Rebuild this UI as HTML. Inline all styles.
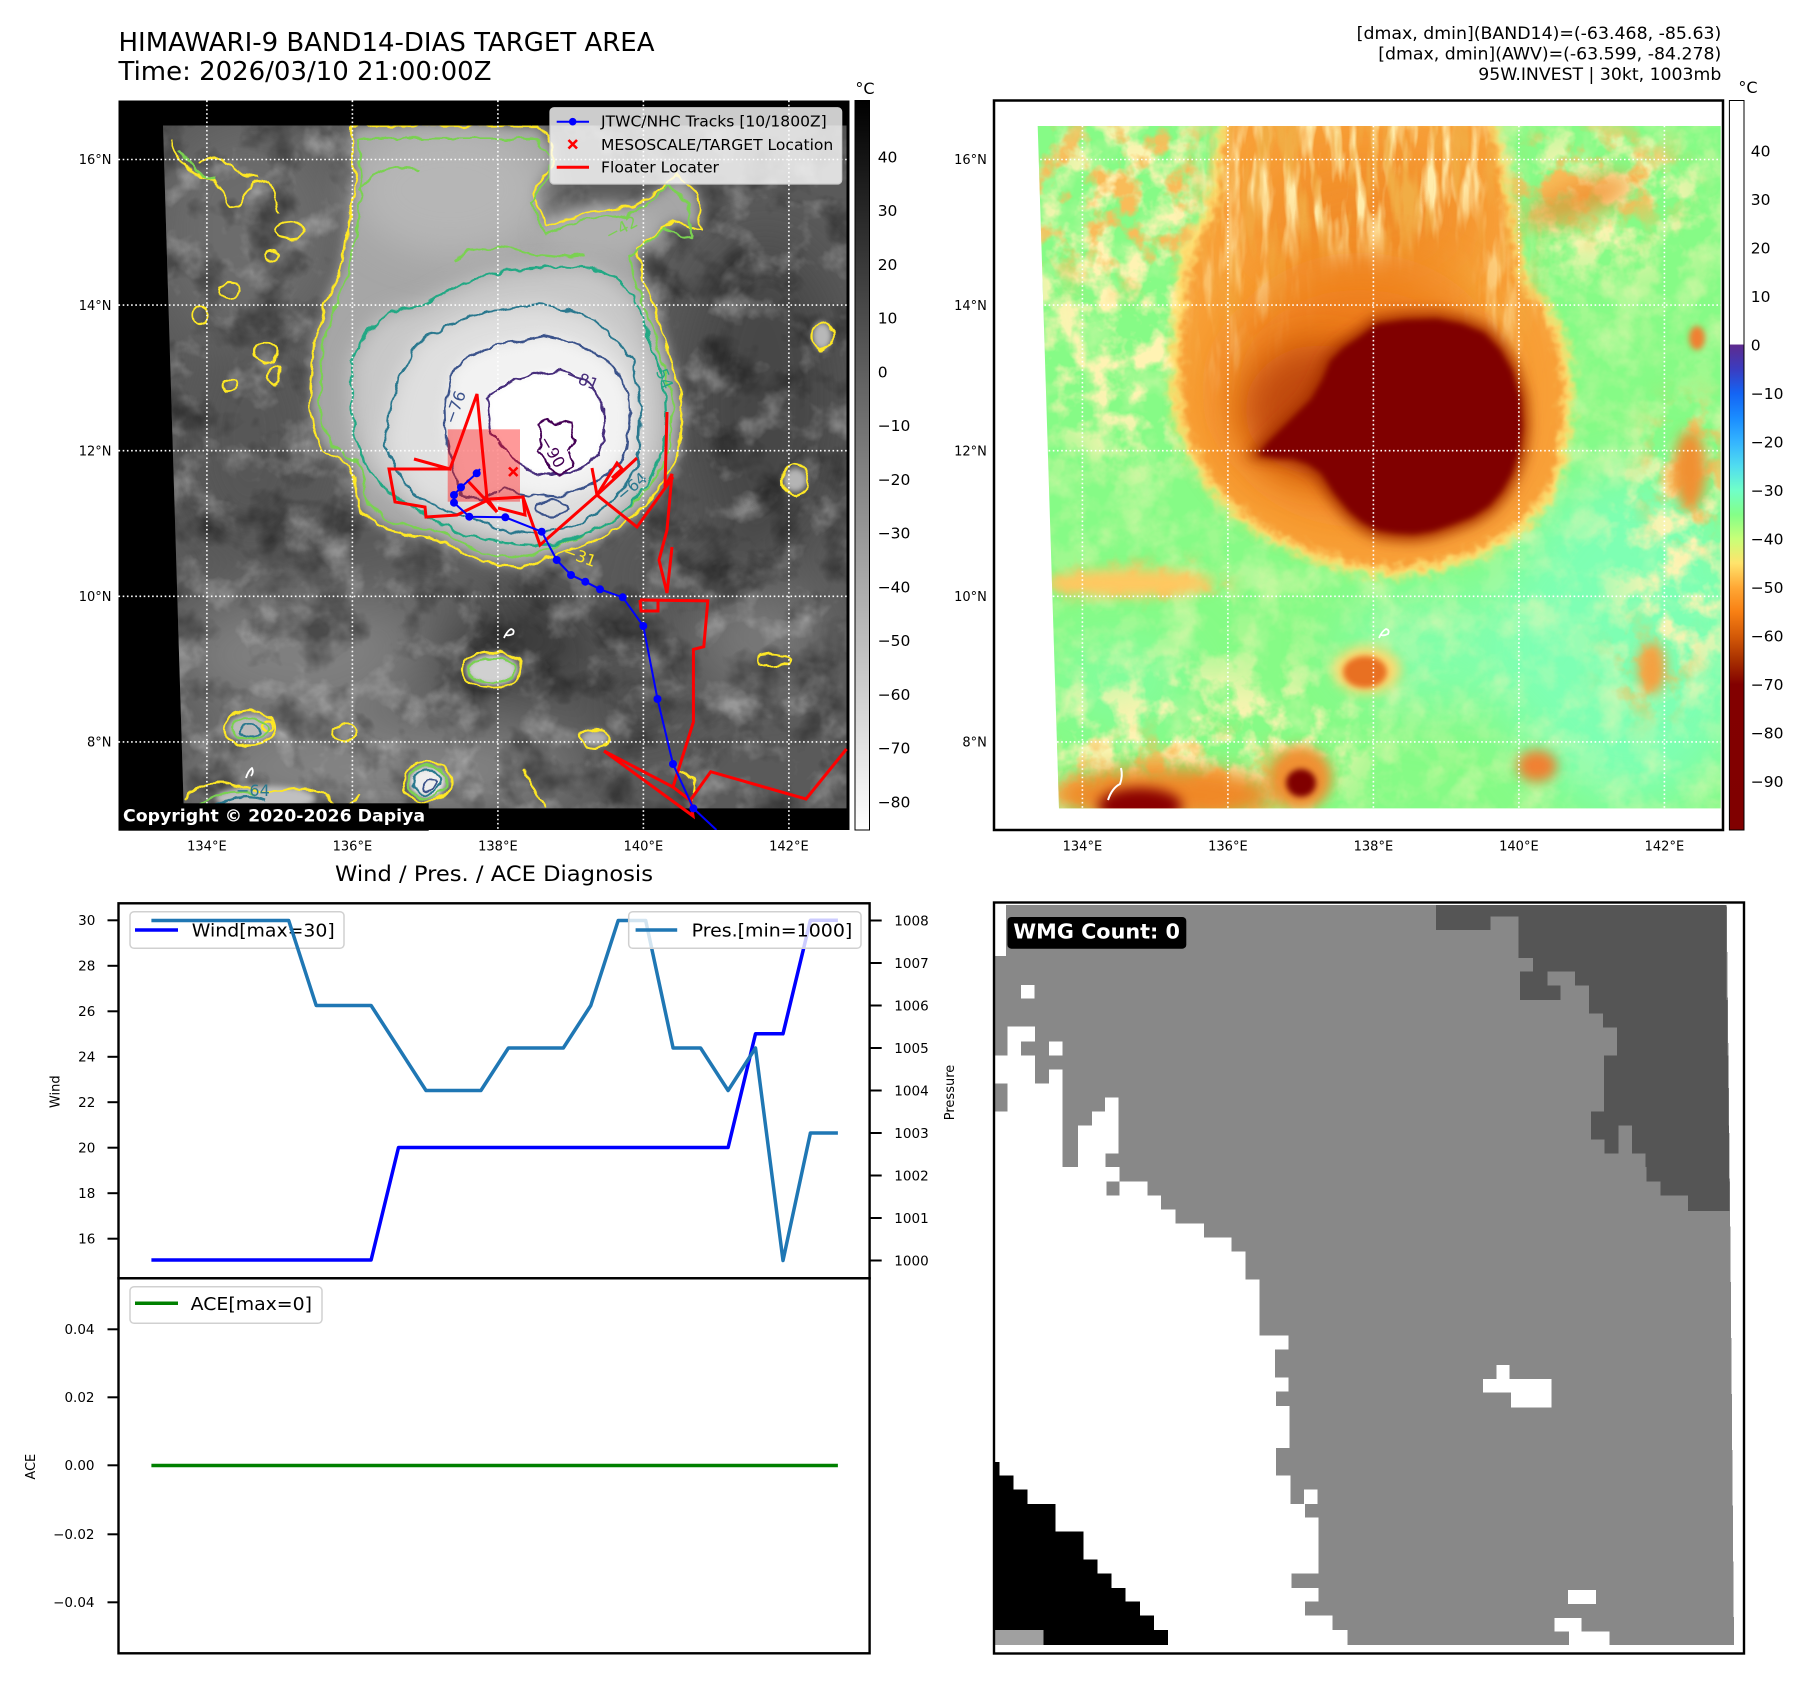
<!DOCTYPE html>
<html><head><meta charset="utf-8"><style>html,body{margin:0;padding:0;background:#fff;}svg{display:block}</style></head>
<body>
<svg width="1813" height="1690" viewBox="0 0 1813 1690" xmlns="http://www.w3.org/2000/svg" font-family="'DejaVu Sans','Liberation Sans',sans-serif">
<defs>
  <clipPath id="cL"><polygon points="163,125.5 846.5,125.5 846.5,808.4 183.7,808.4"/></clipPath>
  <clipPath id="cR"><polygon points="1037.7,126 1720.7,126 1720.7,808.4 1059,808.4"/></clipPath>
  <clipPath id="axL"><rect x="118.5" y="100.5" width="731" height="729.5"/></clipPath>
  <filter id="b3" x="-50%" y="-50%" width="200%" height="200%"><feGaussianBlur stdDeviation="3"/></filter>
  <filter id="b6" x="-50%" y="-50%" width="200%" height="200%"><feGaussianBlur stdDeviation="6"/></filter>
  <filter id="b10" x="-50%" y="-50%" width="200%" height="200%"><feGaussianBlur stdDeviation="10"/></filter>
  <filter id="b18" x="-50%" y="-50%" width="200%" height="200%"><feGaussianBlur stdDeviation="18"/></filter>
  <filter id="b28" x="-50%" y="-50%" width="200%" height="200%"><feGaussianBlur stdDeviation="28"/></filter>
  <filter id="wig" filterUnits="userSpaceOnUse" x="100" y="90" width="770" height="760">
    <feTurbulence type="fractalNoise" baseFrequency="0.07" numOctaves="2" seed="4" result="t"/>
    <feDisplacementMap in="SourceGraphic" in2="t" scale="9" xChannelSelector="R" yChannelSelector="G"/>
  </filter>
  <filter id="rag" filterUnits="userSpaceOnUse" x="990" y="90" width="760" height="760">
    <feGaussianBlur stdDeviation="4" result="bl"/>
    <feTurbulence type="fractalNoise" baseFrequency="0.09" numOctaves="2" seed="9" result="t"/>
    <feDisplacementMap in="bl" in2="t" scale="16" xChannelSelector="R" yChannelSelector="G"/>
  </filter>
  <filter id="nW" filterUnits="userSpaceOnUse" x="118" y="100" width="732" height="732">
    <feTurbulence type="fractalNoise" baseFrequency="0.025" numOctaves="4" seed="11"/>
    <feColorMatrix type="matrix" values="0 0 0 0 1  0 0 0 0 1  0 0 0 0 1  2.6 0 0 0 -1.35"/>
  </filter>
  <filter id="nD" filterUnits="userSpaceOnUse" x="118" y="100" width="732" height="732">
    <feTurbulence type="fractalNoise" baseFrequency="0.02" numOctaves="4" seed="23"/>
    <feColorMatrix type="matrix" values="0 0 0 0 0  0 0 0 0 0  0 0 0 0 0  3 0 0 0 -1.45"/>
  </filter>
  <filter id="nY" filterUnits="userSpaceOnUse" x="994" y="100" width="730" height="732">
    <feTurbulence type="fractalNoise" baseFrequency="0.025" numOctaves="4" seed="11"/>
    <feColorMatrix type="matrix" values="0 0 0 0 1  0 0 0 0 0.93  0 0 0 0 0.5  3.4 0 0 0 -1.7"/>
  </filter>
  <filter id="nY2" filterUnits="userSpaceOnUse" x="994" y="100" width="730" height="732">
    <feTurbulence type="fractalNoise" baseFrequency="0.035" numOctaves="4" seed="17"/>
    <feColorMatrix type="matrix" values="0 0 0 0 1  0 0 0 0 0.9  0 0 0 0 0.45  4 0 0 0 -1.7"/>
  </filter>
  <filter id="nS" filterUnits="userSpaceOnUse" x="994" y="100" width="730" height="732">
    <feTurbulence type="fractalNoise" baseFrequency="0.07 0.014" numOctaves="3" seed="29"/>
    <feColorMatrix type="matrix" values="0 0 0 0 1  0 0 0 0 0.85  0 0 0 0 0.42  4 0 0 0 -1.8"/>
  </filter>
  <filter id="nS2" filterUnits="userSpaceOnUse" x="994" y="100" width="730" height="732">
    <feTurbulence type="fractalNoise" baseFrequency="0.06 0.012" numOctaves="3" seed="37"/>
    <feColorMatrix type="matrix" values="0 0 0 0 0.88  0 0 0 0 0.42  0 0 0 0 0.06  4 0 0 0 -1.9"/>
  </filter>
  <filter id="nO" filterUnits="userSpaceOnUse" x="994" y="100" width="730" height="732">
    <feTurbulence type="fractalNoise" baseFrequency="0.035" numOctaves="4" seed="41"/>
    <feColorMatrix type="matrix" values="0 0 0 0 0.95  0 0 0 0 0.5  0 0 0 0 0.1  4.5 0 0 0 -2.2"/>
  </filter>
  <mask id="mNW" maskUnits="userSpaceOnUse" x="990" y="100" width="740" height="740">
    <rect x="990" y="100" width="740" height="740" fill="black"/>
    <ellipse cx="1125" cy="195" rx="115" ry="85" fill="white" filter="url(#b18)"/>
    <ellipse cx="1590" cy="180" rx="90" ry="50" fill="white" filter="url(#b18)"/>
    <ellipse cx="1160" cy="780" rx="130" ry="40" fill="white" filter="url(#b18)"/>
    <ellipse cx="1690" cy="470" rx="40" ry="70" fill="white" filter="url(#b18)"/>
    <ellipse cx="1650" cy="670" rx="35" ry="40" fill="white" filter="url(#b18)"/>
    <ellipse cx="1140" cy="583" rx="90" ry="18" fill="white" filter="url(#b10)"/>
  </mask>
  <mask id="mY" maskUnits="userSpaceOnUse" x="990" y="100" width="740" height="740">
    <rect x="990" y="100" width="740" height="740" fill="#333"/>
    <ellipse cx="1130" cy="280" rx="110" ry="180" fill="white" filter="url(#b28)"/>
    <ellipse cx="1600" cy="200" rx="110" ry="70" fill="white" filter="url(#b28)"/>
    <ellipse cx="1200" cy="740" rx="160" ry="70" fill="white" filter="url(#b28)"/>
    <ellipse cx="1680" cy="560" rx="60" ry="130" fill="white" filter="url(#b28)"/>
  </mask>
  <mask id="mTop" maskUnits="userSpaceOnUse" x="990" y="100" width="740" height="740">
    <rect x="990" y="100" width="740" height="740" fill="black"/>
    <ellipse cx="1350" cy="170" rx="150" ry="80" fill="white" filter="url(#b18)"/>
    <ellipse cx="1250" cy="300" rx="50" ry="110" fill="#aaa" filter="url(#b18)"/>
    <ellipse cx="1500" cy="280" rx="30" ry="80" fill="#aaa" filter="url(#b18)"/>
  </mask>
  <linearGradient id="gL" x1="0" y1="0" x2="0" y2="1"><stop offset="0" stop-color="#000"/><stop offset="1" stop-color="#fff"/></linearGradient>
  <linearGradient id="gR" x1="0" y1="0" x2="0" y2="1">
    <stop offset="0" stop-color="#fff"/><stop offset="0.334" stop-color="#fff"/>
    <stop offset="0.335" stop-color="#5e2b8e"/><stop offset="0.368" stop-color="#3b3cc0"/>
    <stop offset="0.4015" stop-color="#1464f4"/><stop offset="0.4348" stop-color="#1a8cff"/>
    <stop offset="0.468" stop-color="#34b4ff"/><stop offset="0.501" stop-color="#50dcf0"/>
    <stop offset="0.5345" stop-color="#70ffc8"/><stop offset="0.5678" stop-color="#84ff88"/>
    <stop offset="0.601" stop-color="#c8ff78"/><stop offset="0.634" stop-color="#ffe46c"/>
    <stop offset="0.6675" stop-color="#ffa835"/><stop offset="0.7007" stop-color="#f88014"/>
    <stop offset="0.734" stop-color="#d45a08"/><stop offset="0.767" stop-color="#a83000"/>
    <stop offset="0.8004" stop-color="#820000"/><stop offset="1" stop-color="#800000"/>
  </linearGradient>
  <path id="pY" d="M351,126 L538,126 552,145 552,165 540,180 533,193 547,226 585,212 632,207 660,190 678,175 697,193 702,231 674,221 636,249 646,287 660,324 674,371 683,403 678,455 664,480 650,501 630,518 608,534 585,545 561,553 540,560 524,567 503,565 482,562 460,550 435,539 410,535 389,530 372,520 361,511 356,488 351,464 336,458 323,450 314,428 309,403 312,372 314,343 322,318 328,296 340,270 347,231 352,205 356,175 352,150 Z"/>
  <path id="pA" d="M351,361 L365,335 379,319 400,310 421,305 450,290 482,277 510,270 538,268 566,266 594,268 615,280 632,296 643,318 650,343 660,368 664,389 666,420 664,445 655,468 645,487 630,505 613,520 590,533 561,543 533,545 505,543 485,540 463,534 440,524 417,511 400,500 384,487 370,472 361,455 354,432 351,408 Z"/>
  <path id="pB" d="M384,445 L390,410 398,380 410,358 417,343 445,327 473,315 505,308 538,305 566,310 594,319 615,338 632,361 638,388 641,417 640,445 636,469 625,487 613,501 595,515 575,525 552,531 529,534 500,530 473,520 445,510 417,497 398,472 Z"/>
  <path id="pC" d="M452,372 L470,355 495,345 524,340 545,336 566,340 594,352 612,366 622,380 629,400 630,420 627,450 613,469 600,480 585,487 557,497 529,495 505,490 480,500 462,495 452,470 446,440 445,410 Z"/>
  <path id="pD" d="M487,399 L500,388 515,380 540,373 557,371 570,374 585,380 596,392 604,408 605,430 599,455 585,466 571,473 550,475 533,473 515,462 505,450 495,437 491,427 Z"/>
  <path id="pE" d="M538,425 L548,418 556,425 562,420 572,423 575,440 568,450 572,465 560,475 548,470 545,458 538,450 542,438 Z"/>
  <path id="pO" d="M1227,120 L1489,120 1500,170 1507,217 1515,250 1522,287 1540,305 1550,324 1560,350 1564,380 1563,420 1559,455 1552,480 1540,501 1520,522 1498,539 1470,552 1437,562 1391,569 1344,562 1310,550 1274,534 1250,518 1227,497 1210,475 1195,450 1185,425 1181,403 1180,370 1181,333 1185,298 1190,263 1200,240 1212,220 1220,190 Z"/>
  <path id="pK" d="M1377,324 L1405,320 1437,319 1462,324 1484,333 1500,350 1512,371 1520,398 1522,427 1519,452 1512,473 1502,491 1489,506 1472,517 1451,525 1433,531 1414,534 1395,533 1377,530 1362,522 1349,511 1334,493 1321,473 1308,464 1293,459 1275,458 1258,455 1268,442 1283,427 1297,413 1311,399 1322,380 1330,361 1343,348 1358,338 Z"/>
</defs>

<rect width="1813" height="1690" fill="#fff"/>

<!-- Titles -->
<text x="118.5" y="51" font-size="25.8" textLength="536" lengthAdjust="spacingAndGlyphs">HIMAWARI-9 BAND14-DIAS TARGET AREA</text>
<text x="118.5" y="80" font-size="25.8" textLength="373" lengthAdjust="spacingAndGlyphs">Time: 2026/03/10 21:00:00Z</text>
<text x="1721.3" y="38.8" font-size="17.2" text-anchor="end" textLength="364.6" lengthAdjust="spacingAndGlyphs">[dmax, dmin](BAND14)=(-63.468, -85.63)</text>
<text x="1721.3" y="59.3" font-size="17.2" text-anchor="end" textLength="343" lengthAdjust="spacingAndGlyphs">[dmax, dmin](AWV)=(-63.599, -84.278)</text>
<text x="1721.3" y="79.8" font-size="17.2" text-anchor="end" textLength="243" lengthAdjust="spacingAndGlyphs">95W.INVEST | 30kt, 1003mb</text>

<!-- ================= LEFT MAP ================= -->
<rect x="118.5" y="100.5" width="731" height="729.5" fill="#000"/>
<g clip-path="url(#cL)">
  <rect x="118" y="100" width="732" height="732" fill="#5a5a5a"/>
  <g filter="url(#b28)">
    <ellipse cx="300" cy="655" rx="125" ry="60" fill="#808080"/>
    <ellipse cx="250" cy="230" rx="95" ry="110" fill="#6c6c6c"/>
    <ellipse cx="380" cy="770" rx="200" ry="45" fill="#868686"/>
    <ellipse cx="250" cy="440" rx="70" ry="110" fill="#575757"/>
    <ellipse cx="515" cy="640" rx="80" ry="45" fill="#383838"/>
    <ellipse cx="765" cy="400" rx="80" ry="160" fill="#474747"/>
    <ellipse cx="760" cy="640" rx="60" ry="50" fill="#7a7a7a"/>
    <ellipse cx="640" cy="700" rx="50" ry="40" fill="#4e4e4e"/>
    <ellipse cx="700" cy="575" rx="60" ry="30" fill="#505050"/>
    <ellipse cx="430" cy="600" rx="60" ry="25" fill="#6a6a6a"/>
  </g>
  <rect x="118" y="100" width="732" height="732" filter="url(#nW)" opacity="0.35"/>
  <rect x="118" y="100" width="732" height="732" filter="url(#nD)" opacity="0.4"/>
  <use href="#pY" fill="#a6a6a6" filter="url(#b6)"/>
  <ellipse cx="450" cy="190" rx="95" ry="65" fill="#b6b6b6" filter="url(#b18)"/>
  <ellipse cx="600" cy="230" rx="60" ry="25" fill="#b0b0b0" filter="url(#b10)"/>
  <use href="#pA" fill="#c8c8c8" filter="url(#b10)"/>
  <use href="#pB" fill="#dfdfdf" filter="url(#b10)"/>
  <use href="#pC" fill="#f2f2f2" filter="url(#b6)"/>
  <use href="#pD" fill="#ffffff" filter="url(#b3)"/>
  <ellipse cx="427" cy="782" rx="18" ry="15" fill="#eeeeee" filter="url(#b3)"/>
  <ellipse cx="492" cy="670" rx="26" ry="16" fill="#d0d0d0" filter="url(#b3)"/>
  <ellipse cx="265" cy="798" rx="50" ry="12" fill="#c0c0c0" filter="url(#b3)"/>
  <ellipse cx="250" cy="728" rx="22" ry="14" fill="#bcbcbc" filter="url(#b3)"/>
  <ellipse cx="822" cy="336" rx="10" ry="14" fill="#b8b8b8" filter="url(#b3)"/>
  <ellipse cx="795" cy="480" rx="12" ry="12" fill="#b4b4b4" filter="url(#b3)"/>
  <ellipse cx="595" cy="738" rx="14" ry="8" fill="#b0b0b0" filter="url(#b3)"/>
</g>
<!-- contours -->
<g clip-path="url(#cL)" fill="none" stroke-width="2.2" stroke-linejoin="round">
 <g filter="url(#wig)">
  <use href="#pY" stroke="#fde725"/>
  <use href="#pY" stroke="#7ad151" vector-effect="non-scaling-stroke" transform="translate(500,385) scale(0.95) translate(-500,-385)"/>
  <use href="#pA" stroke="#22a884"/>
  <use href="#pB" stroke="#2a788e"/>
  <use href="#pC" stroke="#3b528b"/>
  <use href="#pD" stroke="#472d7b"/>
  <use href="#pE" stroke="#440154"/>
  <ellipse cx="552" cy="508" rx="16" ry="8" stroke="#3b528b"/>
  <path d="M455,260 Q480,240 520,250 T585,255" stroke="#7ad151"/>
  <path d="M360,190 Q380,160 420,170" stroke="#7ad151"/>
  <g stroke="#fde725">
    <ellipse cx="427" cy="782" rx="24" ry="20"/>
    <ellipse cx="492" cy="670" rx="30" ry="18"/>
    <ellipse cx="250" cy="728" rx="26" ry="17"/>
    <path d="M185,800 Q205,775 235,785 T290,790 T330,800 T360,795"/>
    <path d="M172,140 Q180,170 200,175 T225,200 T250,190 T280,215"/>
    <path d="M200,165 Q215,150 230,165 T260,175"/>
    <ellipse cx="290" cy="230" rx="14" ry="10"/>
    <ellipse cx="272" cy="256" rx="8" ry="6"/>
    <ellipse cx="230" cy="290" rx="10" ry="8"/>
    <ellipse cx="200" cy="315" rx="8" ry="9"/>
    <ellipse cx="266" cy="352" rx="12" ry="9"/>
    <ellipse cx="275" cy="375" rx="6" ry="10"/>
    <ellipse cx="230" cy="385" rx="6" ry="7"/>
    <ellipse cx="822" cy="336" rx="10" ry="14"/>
    <ellipse cx="795" cy="480" rx="12" ry="16"/>
    <ellipse cx="595" cy="738" rx="15" ry="9"/>
    <ellipse cx="773" cy="660" rx="16" ry="6"/>
    <path d="M525,770 Q535,790 545,808"/>
    <path d="M680,770 Q700,780 690,800"/>
    <ellipse cx="345" cy="733" rx="12" ry="8"/>
    <ellipse cx="268" cy="726" rx="6" ry="5"/>
  </g>
  <g stroke="#7ad151">
    <ellipse cx="427" cy="782" rx="19" ry="16"/>
    <ellipse cx="492" cy="670" rx="23" ry="12"/>
    <ellipse cx="250" cy="728" rx="18" ry="11"/>
    <path d="M200,805 Q225,785 255,795"/>
    <path d="M180,150 Q195,175 215,180"/>
  </g>
  <g stroke="#2a788e">
    <ellipse cx="427" cy="782" rx="14" ry="12"/>
    <ellipse cx="250" cy="731" rx="10" ry="6"/>
    <path d="M215,806 Q240,792 265,800"/>
  </g>
  <ellipse cx="430" cy="785" rx="7" ry="5" stroke="#3b528b"/>
 </g>
 <path d="M504,638 q3,-7 7,-9 q4,1 2,5 q-4,2 -7,1" stroke="#fff" stroke-width="1.8"/>
 <path d="M246,778 q2,-7 6,-10 q2,4 -1,8" stroke="#fff" stroke-width="1.8"/>
</g>
<g font-size="16" clip-path="url(#cL)">
  <text x="605" y="236" fill="#7ad151" transform="rotate(-28 617 230)">−42</text>
  <text x="650" y="372" fill="#22a884" transform="rotate(68 660 366)">−54</text>
  <text x="616" y="496" fill="#2a788e" transform="rotate(-40 627 490)">−64</text>
  <text x="442" y="417" fill="#3b528b" transform="rotate(-70 454 412)">−76</text>
  <text x="566" y="383" fill="#472d7b" transform="rotate(22 578 377)">−81</text>
  <text x="538" y="452" fill="#440154" transform="rotate(60 549 447)">−90</text>
  <text x="563" y="560" fill="#fde725" transform="rotate(20 575 555)">−31</text>
  <text x="236" y="796" fill="#2a788e">−64</text>
</g>
<g stroke="#fff" stroke-width="1.6" stroke-dasharray="1.6,2.6">
  <line x1="206.9" y1="100.5" x2="206.9" y2="830"/><line x1="352.4" y1="100.5" x2="352.4" y2="830"/>
  <line x1="497.9" y1="100.5" x2="497.9" y2="830"/><line x1="643.4" y1="100.5" x2="643.4" y2="830"/>
  <line x1="788.9" y1="100.5" x2="788.9" y2="830"/>
  <line x1="118.5" y1="159.5" x2="849" y2="159.5"/><line x1="118.5" y1="305.1" x2="849" y2="305.1"/>
  <line x1="118.5" y1="450.7" x2="849" y2="450.7"/><line x1="118.5" y1="596.3" x2="849" y2="596.3"/>
  <line x1="118.5" y1="741.9" x2="849" y2="741.9"/>
</g>
<g clip-path="url(#axL)">
  <rect x="447.7" y="429.3" width="72.3" height="72.4" fill="#ff0000" fill-opacity="0.4"/>
  <g fill="none" stroke="#ff0000" stroke-width="3" stroke-linejoin="miter">
    <path d="M414,459 L450,469 477,394 487,498 497,512"/>
    <path d="M450,469 L389,469 395,502 425,507 426,517 457,515 490,499 523,497 525,515 498,508"/>
    <path d="M467,480 L497,512"/>
    <path d="M523,497 L540,545 597,495 637,458"/>
    <path d="M592,468 L597,495 637,527 673,477"/>
    <path d="M597,495 L617,463 622,469 612,478"/>
    <path d="M667,412 L665,487 672,474 667,530 659,560 667,593 672,547"/>
    <path d="M640,600 L707.8,600.9 703.8,646.7 693.4,649.4 693.4,722 673,787"/>
    <path d="M640,600 L641,611 658,611 658,600"/>
    <path d="M604,751 L693,816 690.5,800 710.7,771.7 806,799 846.5,749"/>
    <path d="M604,751 L673,787 690,800"/>
  </g>
  <path d="M480,469 L476.7,473.3 461,487.3 454,495 454,502.7 469.3,516.7 505.3,517.3 541.7,531.7 556.7,560 571,575 585.3,581.7 600,589.3 622.7,597.3 643.3,626 657.5,699 673,764 693.4,808.4 716.5,830" fill="none" stroke="#0000ff" stroke-width="2"/>
  <g fill="#0000ff">
    <circle cx="476.7" cy="473.3" r="4"/><circle cx="461" cy="487.3" r="4"/><circle cx="454" cy="495" r="4"/>
    <circle cx="454" cy="502.7" r="4"/><circle cx="469.3" cy="516.7" r="4"/><circle cx="505.3" cy="517.3" r="4"/>
    <circle cx="541.7" cy="531.7" r="4"/><circle cx="556.7" cy="560" r="4"/><circle cx="571" cy="575" r="4"/>
    <circle cx="585.3" cy="581.7" r="4"/><circle cx="600" cy="589.3" r="4"/><circle cx="622.7" cy="597.3" r="4"/>
    <circle cx="643.3" cy="626" r="4"/><circle cx="657.5" cy="699" r="4"/><circle cx="673" cy="764" r="4"/>
    <circle cx="693.4" cy="808.4" r="4"/>
  </g>
  <path d="M509,467.5 l8.5,8.5 M517.5,467.5 l-8.5,8.5" stroke="#ff0000" stroke-width="2.6"/>
</g>
<rect x="550" y="107.7" width="291.7" height="76.3" rx="4" fill="#fff" fill-opacity="0.8" stroke="#cccccc" stroke-width="1.2"/>
<line x1="556.7" y1="121.7" x2="589" y2="121.7" stroke="#0000ff" stroke-width="2"/>
<circle cx="572.7" cy="121.7" r="3.8" fill="#0000ff"/>
<path d="M568.5,140 l8.5,8.5 M577,140 l-8.5,8.5" stroke="#ff0000" stroke-width="2.6"/>
<line x1="556.7" y1="167.3" x2="589" y2="167.3" stroke="#ff0000" stroke-width="3"/>
<text x="601" y="126.7" font-size="15.4" textLength="225.7" lengthAdjust="spacingAndGlyphs">JTWC/NHC Tracks [10/1800Z]</text>
<text x="601" y="150" font-size="15.4" textLength="232.3" lengthAdjust="spacingAndGlyphs">MESOSCALE/TARGET Location</text>
<text x="601" y="172.7" font-size="15.4" textLength="118" lengthAdjust="spacingAndGlyphs">Floater Locater</text>
<rect x="118.5" y="803.3" width="310.2" height="27.4" fill="#000"/>
<text x="123" y="821.5" font-size="17.3" font-weight="bold" fill="#fff" textLength="302" lengthAdjust="spacingAndGlyphs">Copyright © 2020-2026 Dapiya</text>
<g font-size="13" text-anchor="end">
  <text x="111.5" y="164.2">16°N</text><text x="111.5" y="309.8">14°N</text><text x="111.5" y="455.4">12°N</text>
  <text x="111.5" y="601">10°N</text><text x="111.5" y="746.6">8°N</text>
</g>
<g font-size="13" text-anchor="middle">
  <text x="206.9" y="850.5">134°E</text><text x="352.4" y="850.5">136°E</text><text x="497.9" y="850.5">138°E</text>
  <text x="643.4" y="850.5">140°E</text><text x="788.9" y="850.5">142°E</text>
</g>
<rect x="855" y="100.5" width="14.5" height="729.5" fill="url(#gL)" stroke="#000" stroke-width="1"/>
<text x="865" y="94" font-size="16" text-anchor="middle">°C</text>
<g font-size="15.5">
  <text x="877.7" y="162.3">40</text><text x="877.7" y="216.1">30</text><text x="877.7" y="269.8">20</text>
  <text x="877.7" y="323.6">10</text><text x="877.7" y="377.3">0</text><text x="877.7" y="431.1">−10</text>
  <text x="877.7" y="484.8">−20</text><text x="877.7" y="538.6">−30</text><text x="877.7" y="592.3">−40</text>
  <text x="877.7" y="646.1">−50</text><text x="877.7" y="699.8">−60</text><text x="877.7" y="753.6">−70</text>
  <text x="877.7" y="807.3">−80</text>
</g>

<!-- ================= RIGHT MAP ================= -->
<rect x="994" y="100.5" width="729" height="729.5" fill="#fff"/>
<g clip-path="url(#cR)">
  <rect x="994" y="100" width="730" height="732" fill="#86fb86"/>
  <g filter="url(#b28)">
    <ellipse cx="1630" cy="640" rx="130" ry="170" fill="#7dffb8" opacity="0.9"/>
    <ellipse cx="1460" cy="650" rx="120" ry="60" fill="#80ffb8" opacity="0.7"/>
    <ellipse cx="1120" cy="680" rx="70" ry="40" fill="#80ffb0" opacity="0.6"/>
  </g>
  <rect x="994" y="100" width="730" height="732" filter="url(#nY)" opacity="0.35"/>
  <g mask="url(#mY)">
    <rect x="994" y="100" width="730" height="732" filter="url(#nY2)"/>
  </g>
  <g mask="url(#mNW)">
    <rect x="994" y="100" width="730" height="732" filter="url(#nO)"/>
  </g>
  <g filter="url(#rag)">
    <use href="#pO" fill="#ffe070" transform="translate(1380,380) scale(1.05) translate(-1380,-380)"/>
    <use href="#pO" fill="#f8a038"/>
  </g>
  <ellipse cx="1365" cy="220" rx="110" ry="70" fill="#f08a28" filter="url(#b28)" opacity="0.8"/>
  <g mask="url(#mTop)">
    <rect x="994" y="100" width="730" height="732" filter="url(#nS)"/>
    <rect x="994" y="100" width="730" height="732" filter="url(#nS2)"/>
  </g>
  <ellipse cx="1360" cy="390" rx="140" ry="120" fill="#ec7818" filter="url(#b28)" opacity="0.9"/>
  <ellipse cx="1320" cy="410" rx="75" ry="65" fill="#c04a08" filter="url(#b18)"/>
  <use href="#pK" fill="#a83200" filter="url(#b6)" transform="translate(1420,425) scale(1.07) translate(-1420,-425)"/>
  <use href="#pK" fill="#800000" filter="url(#b3)"/>
  <ellipse cx="1580" cy="200" rx="55" ry="18" fill="#f09030" filter="url(#b10)" opacity="0.8" transform="rotate(-20 1580 200)"/>
  <ellipse cx="1367" cy="670" rx="34" ry="24" fill="#ffd870" filter="url(#b6)"/>
  <ellipse cx="1365" cy="672" rx="22" ry="16" fill="#e87020" filter="url(#b3)"/>
  <ellipse cx="1300" cy="778" rx="32" ry="32" fill="#f09030" filter="url(#b6)"/>
  <ellipse cx="1301" cy="783" rx="15" ry="14" fill="#800000" filter="url(#b3)"/>
  <ellipse cx="1165" cy="795" rx="110" ry="28" fill="#f08828" filter="url(#b10)"/>
  <ellipse cx="1140" cy="806" rx="42" ry="18" fill="#8a0000" filter="url(#b6)"/>
  <ellipse cx="1130" cy="583" rx="85" ry="14" fill="#ffc860" filter="url(#b6)"/>
  <ellipse cx="1690" cy="470" rx="16" ry="40" fill="#f09030" filter="url(#b6)"/>
  <ellipse cx="1652" cy="668" rx="14" ry="26" fill="#f4a040" filter="url(#b6)"/>
  <ellipse cx="1537" cy="766" rx="20" ry="16" fill="#f08030" filter="url(#b6)"/>
  <ellipse cx="1697" cy="338" rx="8" ry="12" fill="#f08030" filter="url(#b3)"/>
  <path d="M1379,638 q3,-7 7,-9 q4,1 2,5 q-4,2 -7,1" stroke="#fff" stroke-width="1.8" fill="none"/>
  <path d="M1108,800 q4,-12 12,-16 q3,-8 1,-16" stroke="#fff" stroke-width="2" fill="none"/>
</g>
<g stroke="#fff" stroke-width="1.6" stroke-dasharray="1.6,2.6">
  <line x1="1082.4" y1="100.5" x2="1082.4" y2="830"/><line x1="1227.9" y1="100.5" x2="1227.9" y2="830"/>
  <line x1="1373.4" y1="100.5" x2="1373.4" y2="830"/><line x1="1518.9" y1="100.5" x2="1518.9" y2="830"/>
  <line x1="1664.4" y1="100.5" x2="1664.4" y2="830"/>
  <line x1="994" y1="159.5" x2="1723" y2="159.5"/><line x1="994" y1="305.1" x2="1723" y2="305.1"/>
  <line x1="994" y1="450.7" x2="1723" y2="450.7"/><line x1="994" y1="596.3" x2="1723" y2="596.3"/>
  <line x1="994" y1="741.9" x2="1723" y2="741.9"/>
</g>
<rect x="994" y="100.5" width="729" height="729.5" fill="none" stroke="#000" stroke-width="2.5"/>
<g font-size="13" text-anchor="end">
  <text x="986.9" y="164.2">16°N</text><text x="986.9" y="309.8">14°N</text><text x="986.9" y="455.4">12°N</text>
  <text x="986.9" y="601">10°N</text><text x="986.9" y="746.6">8°N</text>
</g>
<g font-size="13" text-anchor="middle">
  <text x="1082.4" y="850.5">134°E</text><text x="1227.9" y="850.5">136°E</text><text x="1373.4" y="850.5">138°E</text>
  <text x="1518.9" y="850.5">140°E</text><text x="1664.4" y="850.5">142°E</text>
</g>
<rect x="1729.4" y="100.5" width="14.6" height="729.5" fill="url(#gR)" stroke="#000" stroke-width="1"/>
<text x="1748" y="93" font-size="16" text-anchor="middle">°C</text>
<g font-size="15.5">
  <text x="1750.8" y="156.5">40</text><text x="1750.8" y="205">30</text><text x="1750.8" y="253.5">20</text>
  <text x="1750.8" y="302">10</text><text x="1750.8" y="350.5">0</text><text x="1750.8" y="399">−10</text>
  <text x="1750.8" y="447.5">−20</text><text x="1750.8" y="496">−30</text><text x="1750.8" y="544.5">−40</text>
  <text x="1750.8" y="593">−50</text><text x="1750.8" y="641.5">−60</text><text x="1750.8" y="690">−70</text>
  <text x="1750.8" y="738.5">−80</text><text x="1750.8" y="787">−90</text>
</g>

<!-- ================= WIND / PRES / ACE ================= -->
<text x="494" y="881" font-size="21" text-anchor="middle" textLength="318" lengthAdjust="spacingAndGlyphs">Wind / Pres. / ACE Diagnosis</text>
<polyline points="151.4,1260 371.1,1260 398.5,1147.5 728.1,1147.5 755.5,1033.8 783,1033.8 810.4,920.3 837.9,920.3" fill="none" stroke="#0000ff" stroke-width="3.5" stroke-linejoin="round"/>
<rect x="130" y="911.7" width="214" height="36.6" rx="4" fill="#fff" fill-opacity="0.8" stroke="#d0d0d0" stroke-width="1.5"/>
<line x1="135" y1="930" x2="178" y2="930" stroke="#0000ff" stroke-width="3.5"/>
<text x="191.8" y="936.5" font-size="17.4" textLength="143" lengthAdjust="spacingAndGlyphs">Wind[max=30]</text>
<polyline points="151.4,920.5 288.7,920.5 316.2,1005.5 371.1,1005.5 426,1090.5 480.9,1090.5 508.4,1048 563.3,1048 590.8,1005.5 618.2,920.5 645.7,920.5 673.1,1048 700.6,1048 728.1,1090.5 755.5,1048 783,1260.5 810.4,1133 837.9,1133" fill="none" stroke="#1f77b4" stroke-width="3.5" stroke-linejoin="round"/>
<rect x="628.7" y="911.7" width="232.3" height="36.6" rx="4" fill="#fff" fill-opacity="0.8" stroke="#d0d0d0" stroke-width="1.5"/>
<line x1="635.6" y1="930" x2="677.2" y2="930" stroke="#1f77b4" stroke-width="3.5"/>
<text x="691.6" y="936.5" font-size="17.4" textLength="160.7" lengthAdjust="spacingAndGlyphs">Pres.[min=1000]</text>
<line x1="151.4" y1="1465.5" x2="837.9" y2="1465.5" stroke="#008000" stroke-width="3.5"/>
<rect x="130" y="1286.7" width="192" height="36.6" rx="4" fill="#fff" fill-opacity="0.8" stroke="#d0d0d0" stroke-width="1.5"/>
<line x1="135" y1="1303.3" x2="178" y2="1303.3" stroke="#008000" stroke-width="3.5"/>
<text x="190.7" y="1310" font-size="17.4" textLength="121.3" lengthAdjust="spacingAndGlyphs">ACE[max=0]</text>
<rect x="118.5" y="903.3" width="751.1" height="375" fill="none" stroke="#000" stroke-width="2.4"/>
<rect x="118.5" y="1278.3" width="751.1" height="375" fill="none" stroke="#000" stroke-width="2.4"/>
<g stroke="#000" stroke-width="2">
  <line x1="107.5" y1="920.3" x2="118.5" y2="920.3"/><line x1="107.5" y1="965.8" x2="118.5" y2="965.8"/>
  <line x1="107.5" y1="1011.3" x2="118.5" y2="1011.3"/><line x1="107.5" y1="1056.8" x2="118.5" y2="1056.8"/>
  <line x1="107.5" y1="1102.2" x2="118.5" y2="1102.2"/><line x1="107.5" y1="1147.7" x2="118.5" y2="1147.7"/>
  <line x1="107.5" y1="1193.2" x2="118.5" y2="1193.2"/><line x1="107.5" y1="1238.7" x2="118.5" y2="1238.7"/>
  <line x1="869.6" y1="920.5" x2="881.7" y2="920.5"/><line x1="869.6" y1="963" x2="881.7" y2="963"/>
  <line x1="869.6" y1="1005.5" x2="881.7" y2="1005.5"/><line x1="869.6" y1="1048" x2="881.7" y2="1048"/>
  <line x1="869.6" y1="1090.5" x2="881.7" y2="1090.5"/><line x1="869.6" y1="1133" x2="881.7" y2="1133"/>
  <line x1="869.6" y1="1175.5" x2="881.7" y2="1175.5"/><line x1="869.6" y1="1218" x2="881.7" y2="1218"/>
  <line x1="869.6" y1="1260.5" x2="881.7" y2="1260.5"/>
  <line x1="107.5" y1="1329.3" x2="118.5" y2="1329.3"/><line x1="107.5" y1="1397.3" x2="118.5" y2="1397.3"/>
  <line x1="107.5" y1="1465.3" x2="118.5" y2="1465.3"/><line x1="107.5" y1="1534.3" x2="118.5" y2="1534.3"/>
  <line x1="107.5" y1="1602.3" x2="118.5" y2="1602.3"/>
</g>
<g font-size="13.5" text-anchor="end">
  <text x="95.3" y="925.1">30</text><text x="95.3" y="970.6">28</text><text x="95.3" y="1016.1">26</text>
  <text x="95.3" y="1061.6">24</text><text x="95.3" y="1107">22</text><text x="95.3" y="1152.5">20</text>
  <text x="95.3" y="1198">18</text><text x="95.3" y="1243.5">16</text>
  <text x="94.5" y="1334.1">0.04</text><text x="94.5" y="1402.1">0.02</text><text x="94.5" y="1470.1">0.00</text>
  <text x="94.5" y="1539.1">−0.02</text><text x="94.5" y="1607.1">−0.04</text>
</g>
<g font-size="13.5">
  <text x="894.3" y="925.3">1008</text><text x="894.3" y="967.8">1007</text><text x="894.3" y="1010.3">1006</text>
  <text x="894.3" y="1052.8">1005</text><text x="894.3" y="1095.3">1004</text><text x="894.3" y="1137.8">1003</text>
  <text x="894.3" y="1180.3">1002</text><text x="894.3" y="1222.8">1001</text><text x="894.3" y="1265.3">1000</text>
</g>
<text x="0" y="0" font-size="13" text-anchor="middle" transform="translate(59.5,1091.7) rotate(-90)">Wind</text>
<text x="0" y="0" font-size="13" text-anchor="middle" transform="translate(954,1092.5) rotate(-90)">Pressure</text>
<text x="0" y="0" font-size="13" text-anchor="middle" transform="translate(35,1466.7) rotate(-90)">ACE</text>

<!-- ================= WMG PANEL ================= -->
<svg x="990" y="895" width="760" height="765" viewBox="0 0 1568 1568" preserveAspectRatio="none">
 <g shape-rendering="crispEdges">
  <polygon points="10,20 1520,20 1527,650 1535,1537 10,1537" fill="#888888"/>
  <g fill="#555555">
    <rect x="920" y="20" width="600" height="24"/>
    <rect x="920" y="44" width="113" height="28"/><rect x="1090" y="44" width="430" height="28"/>
    <rect x="1090" y="72" width="430" height="57"/>
    <rect x="1120" y="129" width="400" height="28"/>
    <rect x="1093" y="157" width="57" height="29"/><rect x="1207" y="157" width="313" height="29"/>
    <rect x="1093" y="186" width="84" height="29"/><rect x="1236" y="186" width="284" height="29"/>
    <rect x="1236" y="215" width="286" height="28"/>
    <rect x="1265" y="243" width="257" height="29"/>
    <rect x="1294" y="272" width="228" height="57"/>
    <rect x="1267" y="329" width="257" height="115"/>
    <rect x="1240" y="444" width="284" height="28"/>
    <rect x="1240" y="472" width="57" height="29"/><rect x="1325" y="472" width="200" height="29"/>
    <rect x="1268" y="501" width="29" height="29"/><rect x="1325" y="501" width="200" height="29"/>
    <rect x="1352" y="530" width="173" height="28"/>
    <rect x="1354" y="558" width="171" height="29"/>
    <rect x="1383" y="587" width="143" height="29"/>
    <rect x="1440" y="616" width="86" height="32"/>
  </g>
  <g fill="#ffffff">
    <rect x="10" y="20" width="23" height="105"/>
    <rect x="64" y="184" width="28" height="28"/>
    <rect x="36" y="270" width="57" height="30"/>
    <rect x="36" y="300" width="28" height="29"/>
    <rect x="122" y="300" width="28" height="29"/>
    <rect x="10" y="329" width="83" height="57"/>
    <rect x="122" y="358" width="28" height="28"/>
    <rect x="36" y="386" width="114" height="58"/>
    <rect x="237" y="415" width="28" height="29"/>
    <rect x="10" y="444" width="140" height="114"/>
    <rect x="210" y="444" width="55" height="28"/>
    <rect x="182" y="472" width="83" height="58"/>
    <rect x="182" y="530" width="56" height="28"/>
    <rect x="10" y="558" width="257" height="29"/>
    <rect x="10" y="587" width="230" height="29"/>
    <rect x="267" y="587" width="58" height="29"/>
    <rect x="10" y="616" width="343" height="29"/>
    <rect x="10" y="645" width="373" height="28"/>
    <rect x="10" y="673" width="431" height="29"/>
    <rect x="10" y="702" width="488" height="29"/>
    <rect x="10" y="731" width="517" height="57"/>
    <rect x="10" y="788" width="546" height="115"/>
    <rect x="10" y="903" width="606" height="29"/>
    <rect x="10" y="932" width="578" height="57"/>
    <rect x="10" y="989" width="606" height="29"/>
    <rect x="10" y="1018" width="580" height="29"/>
    <rect x="10" y="1047" width="608" height="86"/>
    <rect x="10" y="1133" width="580" height="57"/>
    <rect x="10" y="1190" width="610" height="58"/>
    <rect x="648" y="1219" width="28" height="29"/>
    <rect x="10" y="1248" width="640" height="28"/>
    <rect x="10" y="1276" width="668" height="115"/>
    <rect x="10" y="1391" width="612" height="29"/>
    <rect x="10" y="1420" width="668" height="28"/>
    <rect x="10" y="1448" width="640" height="29"/>
    <rect x="10" y="1477" width="697" height="29"/>
    <rect x="10" y="1506" width="728" height="31"/>
    <rect x="1045" y="963" width="27" height="29"/>
    <rect x="1017" y="992" width="141" height="28"/>
    <rect x="1075" y="1020" width="83" height="30"/>
    <rect x="1193" y="1425" width="57" height="28"/>
    <rect x="1165" y="1482" width="55" height="28"/>
    <rect x="1195" y="1510" width="83" height="27"/>
  </g>
  <g fill="#000000">
    <rect x="10" y="1162" width="10" height="28"/>
    <rect x="10" y="1190" width="38" height="29"/>
    <rect x="10" y="1219" width="67" height="29"/>
    <rect x="10" y="1248" width="125" height="57"/>
    <rect x="10" y="1305" width="183" height="57"/>
    <rect x="10" y="1362" width="212" height="29"/>
    <rect x="10" y="1391" width="241" height="29"/>
    <rect x="10" y="1420" width="270" height="28"/>
    <rect x="10" y="1448" width="299" height="29"/>
    <rect x="10" y="1477" width="328" height="29"/>
    <rect x="10" y="1506" width="357" height="31"/>
  </g>
  <rect x="10" y="1506" width="100" height="31" fill="#a0a0a0"/>
 </g>
</svg>
<rect x="994" y="902.5" width="750" height="751" fill="none" stroke="#000" stroke-width="2.4"/>
<rect x="1007.4" y="917" width="178.9" height="31.7" rx="4" fill="#000"/>
<text x="1013.3" y="938.5" font-size="20.5" font-weight="bold" fill="#fff" textLength="166.7" lengthAdjust="spacingAndGlyphs">WMG Count: 0</text>
</svg>
</body></html>
